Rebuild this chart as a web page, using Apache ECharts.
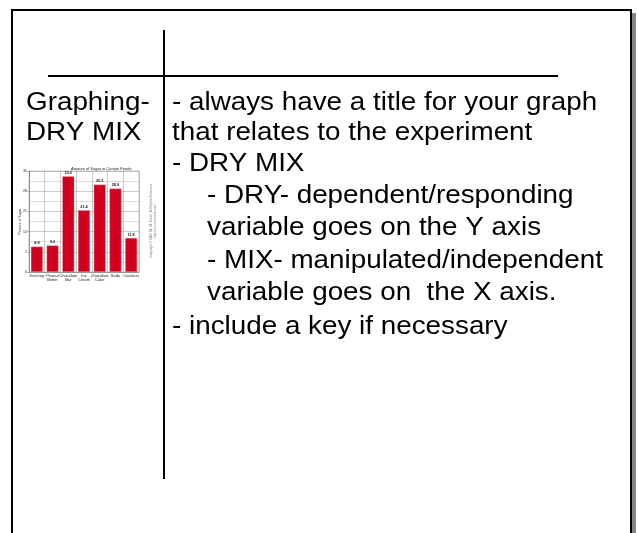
<!DOCTYPE html>
<html>
<head>
<meta charset="utf-8">
<script src="https://cdn.jsdelivr.net/npm/echarts@6/dist/echarts.min.js"></script>
<style>
  html, body { margin: 0; padding: 0; background: #fff; }
  #slide { width: 637px; height: 533px; }
</style>
</head>
<body>
<div id="slide"></div>
<script>
// small bar chart data
const foods = ['Ketchup', 'Peanut\nButter', 'Chocolate\nBar', 'Ice\nCream', 'Chocolate\nCake', 'Soda', 'Crackers'];
const sugarPercent = [8.8, 9.2, 33.2, 21.4, 30.3, 28.9, 11.8];
const yTicks = [0, 7, 14, 21, 28, 35];

// slide text
const leftLines = ['Graphing-', 'DRY MIX'];
const rightLines = [
  '- always have a title for your graph',
  'that relates to the experiment',
  '- DRY MIX',
  '- DRY- dependent/responding',
  'variable goes on the Y axis',
  '- MIX- manipulated/independent',
  'variable goes on  the X axis.',
  '- include a key if necessary'
];
const rightIndent = [0, 0, 0, 1, 1, 1, 1, 0];
const rightY = [103, 133, 164, 196, 228, 261, 293, 327];

const chart = echarts.init(document.getElementById('slide'));

const FONT = '"Liberation Sans", Arial, sans-serif';

//文字 (slightly wide like the original slide)
const textEls = [];
leftLines.forEach((t, i) => {
  textEls.push({
    type: 'text', x: 26, y: 103 + i * 30, scaleX: 1.07,
    style: { text: t, fontSize: 26, fontFamily: FONT, fill: '#000', textVerticalAlign: 'middle' }
  });
});
rightLines.forEach((t, i) => {
  textEls.push({
    type: 'text', x: rightIndent[i] ? 207 : 172, y: rightY[i], scaleX: 1.07,
    style: { text: t, fontSize: 26, fontFamily: FONT, fill: '#000', textVerticalAlign: 'middle' }
  });
});

const option = {
  backgroundColor: '#fff',
  animation: false,
  title: {
    text: 'Amount of Sugar in Certain Foods',
    left: 66,
    top: 162,
    textStyle: { fontSize: 4, fontWeight: 'normal', color: '#222', fontFamily: FONT }
  },
  grid: {
    left: 29,
    right: 637 - 139,
    top: 171,
    bottom: 533 - 272,
    show: true,
    borderColor: '#888',
    borderWidth: 0.5
  },
  xAxis: {
    type: 'category',
    data: foods,
    axisTick: { show: false },
    axisLine: { lineStyle: { color: '#666', width: 0.5 } },
    splitLine: { show: true, interval: 0, lineStyle: { color: '#999', width: 0.5 } },
    axisLabel: { fontSize: 4, lineHeight: 4.5, color: '#222', margin: 1.5, interval: 0, fontFamily: FONT }
  },
  yAxis: {
    type: 'value',
    min: yTicks[0],
    max: yTicks[yTicks.length - 1],
    interval: 7,
    name: 'Percent of Sugar',
    nameLocation: 'middle',
    nameGap: 6.5,
    nameMoveOverlap: false,
    nameRotate: 90,
    nameTextStyle: { fontSize: 3.5, color: '#333', fontFamily: FONT },
    axisLine: { show: true, lineStyle: { color: '#666', width: 0.5 } },
    axisTick: { show: true, length: 1.5, lineStyle: { color: '#666', width: 0.5 } },
    axisLabel: { fontSize: 3.5, color: '#222', margin: 2, fontFamily: FONT },
    splitLine: { show: true, lineStyle: { color: '#999', width: 0.5 } },
    minorTick: { show: false, splitNumber: 2 },
    minorSplitLine: { show: true, lineStyle: { color: '#bbb', width: 0.5 } }
  },
  series: [
    {
      type: 'bar',
      data: sugarPercent,
      barCategoryGap: '24%',
      itemStyle: { color: '#d1001e', borderColor: '#f2b0b8', borderWidth: 0.4 },
      label: {
        show: true,
        position: 'top',
        distance: 1.5,
        fontSize: 3.8,
        fontWeight: 'bold',
        color: '#111',
        fontFamily: FONT,
        formatter: p => p.value.toFixed(1)
      }
    }
  ],
  graphic: [
    // frame
    { type: 'rect', shape: { x: 632, y: 13, width: 4, height: 520 }, style: { fill: '#858585' } },
    { type: 'line', shape: { x1: 12, y1: 10, x2: 631, y2: 10 }, style: { stroke: '#000', lineWidth: 2 } },
    { type: 'line', shape: { x1: 12, y1: 9, x2: 12, y2: 533 }, style: { stroke: '#000', lineWidth: 2 } },
    { type: 'line', shape: { x1: 631, y1: 9, x2: 631, y2: 533 }, style: { stroke: '#000', lineWidth: 2 } },
    // T-chart lines
    { type: 'line', shape: { x1: 48, y1: 76, x2: 558, y2: 76 }, style: { stroke: '#000', lineWidth: 2 } },
    { type: 'line', shape: { x1: 164, y1: 30, x2: 164, y2: 479 }, style: { stroke: '#000', lineWidth: 2 } },
    // copyright notes beside the small chart
    {
      type: 'text', x: 151, y: 221, rotation: Math.PI / 2,
      style: { text: 'Copyright \u00a9 2007 Mr. M. Krech. All Rights Reserved', fontSize: 3.2, fontFamily: FONT, fill: '#777', textAlign: 'center', textVerticalAlign: 'middle' }
    },
    {
      type: 'text', x: 155.5, y: 221, rotation: Math.PI / 2,
      style: { text: 'http://www.mrkrech.com', fontSize: 3.2, fontFamily: FONT, fill: '#777', textAlign: 'center', textVerticalAlign: 'middle' }
    }
  ].concat(textEls)
};

option && chart.setOption(option);
</script>
</body>
</html>
